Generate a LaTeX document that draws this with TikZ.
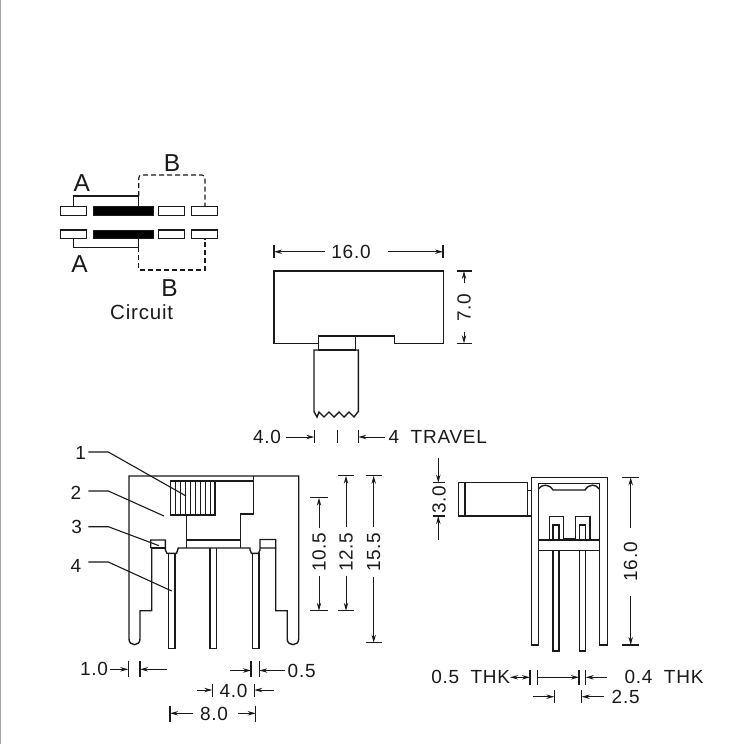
\documentclass[tikz,border=0pt]{standalone}
\usepackage{fontspec}
\setmainfont{Liberation Sans}[LetterSpace=4]
\usetikzlibrary{arrows.meta}
\definecolor{inkline}{HTML}{1A1A1A}
\tikzset{
  part/.style={draw=inkline,line width=1.4pt},
  thinpart/.style={draw=inkline,line width=1.1pt},
  dimline/.style={draw=inkline,line width=1pt,-{Stealth[length=8pt,width=4.4pt]}},
  tick/.style={draw=inkline,line width=1.2pt},
  hidden/.style={draw=inkline,line width=1.1pt,dash pattern=on 5pt off 3pt},
  dimtext/.style={text=inkline,font=\fontsize{19}{19}\selectfont,inner sep=0pt},
  bigtext/.style={text=inkline,font=\fontsize{24.5}{24.5}\selectfont,inner sep=0pt},
  vtext/.style={dimtext,rotate=90},
  pad/.style={draw=inkline,line width=1.2pt,fill=white},
  blade/.style={draw=inkline,line width=1pt,fill=black}
}
\begin{document}
\begin{tikzpicture}[x=1pt,y=-1pt]
  \useasboundingbox (0,0) rectangle (735,744);
  \fill[white] (0,0) rectangle (735,744);
  \fill[black!35] (0,0) rectangle (1.2,744);

  \draw[pad] (60.7,206.7) rectangle (86.7,215.3);
  \draw[blade] (93,206.7) rectangle (153,215.3);
  \draw[pad] (158.7,206.7) rectangle (184.7,215.3);
  \draw[pad] (191.7,206.7) rectangle (217.7,215.3);
  \draw[pad] (60.7,230) rectangle (86.7,238.7);
  \draw[blade] (93,230) rectangle (153,238.7);
  \draw[pad] (158.7,230) rectangle (184.7,238.7);
  \draw[pad] (191.7,230) rectangle (217.7,238.7);
  \draw[thinpart] (73.3,206.7) -- (73.3,196) -- (138.7,196) -- (138.7,206.7);
  \draw[thinpart] (73.3,238.7) -- (73.3,247.3) -- (138.7,247.3) -- (138.7,238.7);
  \draw[hidden,rounded corners=3pt] (138.7,196) -- (138.7,175) -- (205,175) -- (205,206.7);
  \draw[hidden] (138.7,247.3) -- (138.7,270) -- (205,270) -- (205,238.7);
  \node[bigtext] (contactAtop) at (81.7,183.5) {A};
  \node[bigtext] (contactAbot) at (79.5,264) {A};
  \node[bigtext] (contactBtop) at (172,163) {B};
  \node[bigtext] (contactBbot) at (169.5,288.5) {B};
  \node[dimtext,font=\fontsize{20.5}{20.5}\selectfont] (circuit) at (141.7,312) {Circuit};

  \draw[part] (274,343.3) -- (274,271) -- (443.3,271) -- (443.3,343.3) -- (394.7,343.3) -- (394.7,336) -- (318.3,336) -- (318.3,343.3) -- cycle;
  \draw[part] (318.3,336) rectangle (355.3,350);
  \draw[part] (314,411.5) -- (314,350) -- (358.3,350) -- (358.3,411.5)
    -- (354,417) -- (349,412) -- (344,417) -- (339,412) -- (334,417) -- (329,412) -- (324,417) -- (319,412) -- (317,417) -- cycle;

  \node[dimtext] (topwidth) at (351,251.7) {16.0};
  \draw[tick] (274,245) -- (274,258);
  \draw[tick] (443,245) -- (443,258);
  \draw[dimline] (325,251.7) -- (274,251.7);
  \draw[dimline] (388.3,251.7) -- (443,251.7);
  \node[vtext] (topheight) at (464,308) {7.0};
  \draw[tick] (456.7,271) -- (471.7,271);
  \draw[tick] (456.7,343.3) -- (471.7,343.3);
  \draw[dimline] (464,283) -- (464,271);
  \draw[dimline] (464,331.7) -- (464,343.3);

  \node[dimtext] (travelL) at (267,437) {4.0};
  \node[dimtext,anchor=west] (travelR) at (388.5,437) {4\hspace{.6em}TRAVEL};
  \draw[tick] (314.3,430) -- (314.3,443);
  \draw[tick] (337.3,430) -- (337.3,443);
  \draw[tick] (358.3,430) -- (358.3,443);
  \draw[dimline] (286,437) -- (314.3,437);
  \draw[dimline] (385,437) -- (358.3,437);

  \draw[part] (151.7,548) -- (151.7,610.7) -- (140,610.7) -- (140,639) .. controls (140,646.5) and (129,646.5) .. (129,639) -- (129,476) -- (298.7,476) -- (298.7,639) .. controls (298.7,646.5) and (287.2,646.5) .. (287.2,639) -- (287.2,610.7) -- (275.7,610.7) -- (275.7,548);
  \draw[part] (170.7,481) rectangle (215,515);
  \foreach \kx in {175.7,180.7,...,210.7}
    \draw[thinpart] (\kx,481) -- (\kx,515);
  \draw[part] (215,481) -- (253.3,481);
  \draw[part] (253.3,476) -- (253.3,514) -- (240.7,514) -- (240.7,548);
  \draw[part] (186.3,515) -- (186.3,548);
  \draw[part] (186.3,540) -- (240.7,540);
  \draw[part] (150.7,548) -- (150.7,540) -- (165.3,540) -- (165.3,550) -- (167,553.3) -- (176.5,553.3) -- (178.3,548) -- (250,548) -- (250,550) -- (251.5,553.3) -- (258.5,553.3) -- (260,550) -- (260,539.5) -- (275.7,539.5) -- (275.7,548) -- (260,548);
  \draw[part] (150.7,548) -- (165.3,548);
  \draw[thinpart] (168.7,553.3) -- (168.7,648.3) -- (175,648.3) -- (175,553.3);
  \draw[thinpart] (210,548) -- (210,648.3) -- (216.7,648.3) -- (216.7,548);
  \draw[thinpart] (252.7,553.3) -- (252.7,648.3) -- (259,648.3) -- (259,553.3);

  \node[dimtext] (item1) at (80.7,453) {1};
  \node[dimtext] (item2) at (76,492.5) {2};
  \node[dimtext] (item3) at (76.7,527) {3};
  \node[dimtext] (item4) at (76,565.5) {4};
  \coordinate (tip1) at (186,496);
  \coordinate (tip2) at (164,516);
  \coordinate (tip3) at (159,545.7);
  \coordinate (tip4) at (171.7,591);
  \draw[thinpart] (88.3,452) -- (108.3,452) -- (tip1);
  \draw[thinpart] (88.3,491) -- (108.3,491) -- (tip2);
  \draw[thinpart] (88.3,526.7) -- (108.3,526.7) -- (tip3);
  \draw[thinpart] (88.3,562) -- (108.3,562) -- (tip4);

  \node[vtext] (dimA) at (319,552.3) {10.5};
  \node[vtext] (dimB) at (346,552.3) {12.5};
  \node[vtext] (dimC) at (373.7,552.3) {15.5};
  \draw[tick] (310,497.7) -- (328.3,497.7);
  \draw[tick] (310,610.7) -- (328.3,610.7);
  \draw[tick] (338,475.7) -- (354.3,475.7);
  \draw[tick] (338,610.7) -- (354.3,610.7);
  \draw[tick] (365.7,475.7) -- (382.3,475.7);
  \draw[tick] (365.7,642.7) -- (382.3,642.7);
  \draw[dimline] (319,528.3) -- (319,497.7);
  \draw[dimline] (319,576) -- (319,610.7);
  \draw[dimline] (346,526.7) -- (346,475.7);
  \draw[dimline] (346,576) -- (346,610.7);
  \draw[dimline] (373.7,526.7) -- (373.7,475.7);
  \draw[dimline] (373.7,576.7) -- (373.7,642.7);

  \node[dimtext] (pinA) at (94,669.3) {1.0};
  \draw[tick] (128.3,660.7) -- (128.3,677.3);
  \draw[tick] (140,660.7) -- (140,677.3);
  \draw[dimline] (110,669.3) -- (128.3,669.3);
  \draw[dimline] (167.3,669.3) -- (140,669.3);
  \node[dimtext] (pinB) at (301.7,670.5) {0.5};
  \draw[tick] (251,660.7) -- (251,677.3);
  \draw[tick] (259.3,660.7) -- (259.3,677.3);
  \draw[dimline] (230,670.5) -- (251,670.5);
  \draw[dimline] (285,670.5) -- (259.3,670.5);
  \node[dimtext] (pitchA) at (233.5,690.5) {4.0};
  \draw[tick] (212.3,684) -- (212.3,696.7);
  \draw[tick] (254.3,684) -- (254.3,696.7);
  \draw[dimline] (197.3,690) -- (212.3,690);
  \draw[dimline] (274,690) -- (254.3,690);
  \node[dimtext] (pitchB) at (214,714) {8.0};
  \draw[tick] (170,705.7) -- (170,721.7);
  \draw[tick] (255.7,705.7) -- (255.7,721.7);
  \draw[dimline] (192.7,713.3) -- (170,713.3);
  \draw[dimline] (238.3,713.3) -- (255.7,713.3);

  \draw[part] (531.7,645) -- (531.7,477.3) -- (607.3,477.3) -- (607.3,645) -- (599.3,645) -- (599.3,483.3) -- (538.3,483.3) -- (538.3,645) -- cycle;
  \draw[part] (538.3,489) .. controls (542,484) and (549,483.5) .. (553,490) -- (585,490) .. controls (589,483.5) and (596,484) .. (599.3,489);
  \draw[part] (538.3,540) rectangle (599.3,550.7);
  \draw[part] (549.3,540) -- (549.3,516.7) -- (563.3,516.7) -- (563.3,538.3) -- (575.7,538.3) -- (575.7,516.7) -- (590,516.7) -- (590,540);
  \draw[thinpart] (553,540) -- (553,525) -- (559,525) -- (559,540);
  \draw[thinpart] (579.3,540) -- (579.3,525) -- (585.5,525) -- (585.5,540);
  \draw[thinpart] (553,550.7) -- (553,651) -- (559,651) -- (559,550.7);
  \draw[thinpart] (579.3,550.7) -- (579.3,651) -- (585.5,651) -- (585.5,550.7);
  \draw[part] (458.7,482.7) rectangle (527.3,516);
  \draw[part] (465,482.7) -- (465,516);
  \draw[part] (527.3,490.7) -- (531.7,490.7);
  \draw[part] (527.3,516) -- (531.7,516);

  \node[vtext] (sideknob) at (439,499.5) {3.0};
  \draw[tick] (432.7,482.7) -- (445,482.7);
  \draw[tick] (432.7,516) -- (445,516);
  \draw[dimline] (438.3,458) -- (438.3,482.7);
  \draw[dimline] (438.3,540) -- (438.3,516);
  \node[vtext] (sideheight) at (630.7,561.7) {16.0};
  \draw[tick] (621.7,477.3) -- (639.3,477.3);
  \draw[tick] (621.7,645) -- (639.3,645);
  \draw[dimline] (630.7,528.3) -- (630.7,477.3);
  \draw[dimline] (630.7,595.7) -- (630.7,645);

  \node[dimtext] (thkA) at (470.7,677.3) {0.5\hspace{.6em}THK};
  \node[dimtext] (thkB) at (664,677.3) {0.4\hspace{.6em}THK};
  \node[dimtext] (sidepitch) at (625.7,697.3) {2.5};
  \draw[tick] (530,670) -- (530,685);
  \draw[tick] (537.7,670) -- (537.7,685);
  \draw[tick] (579,670) -- (579,685);
  \draw[tick] (585.7,670) -- (585.7,685);
  \draw[draw=inkline,line width=1pt,{Stealth[length=8pt,width=4.4pt]}-{Stealth[length=8pt,width=4.4pt]}] (510,677.3) -- (530,677.3);
  \draw[dimline] (537.7,677.3) -- (579,677.3);
  \draw[dimline] (606.7,677.3) -- (585.7,677.3);
  \draw[tick] (554.3,690) -- (554.3,703.3);
  \draw[tick] (581.7,690) -- (581.7,703.3);
  \draw[dimline] (533.3,696.7) -- (554.3,696.7);
  \draw[dimline] (604.3,696.7) -- (581.7,696.7);
\end{tikzpicture}
\end{document}
